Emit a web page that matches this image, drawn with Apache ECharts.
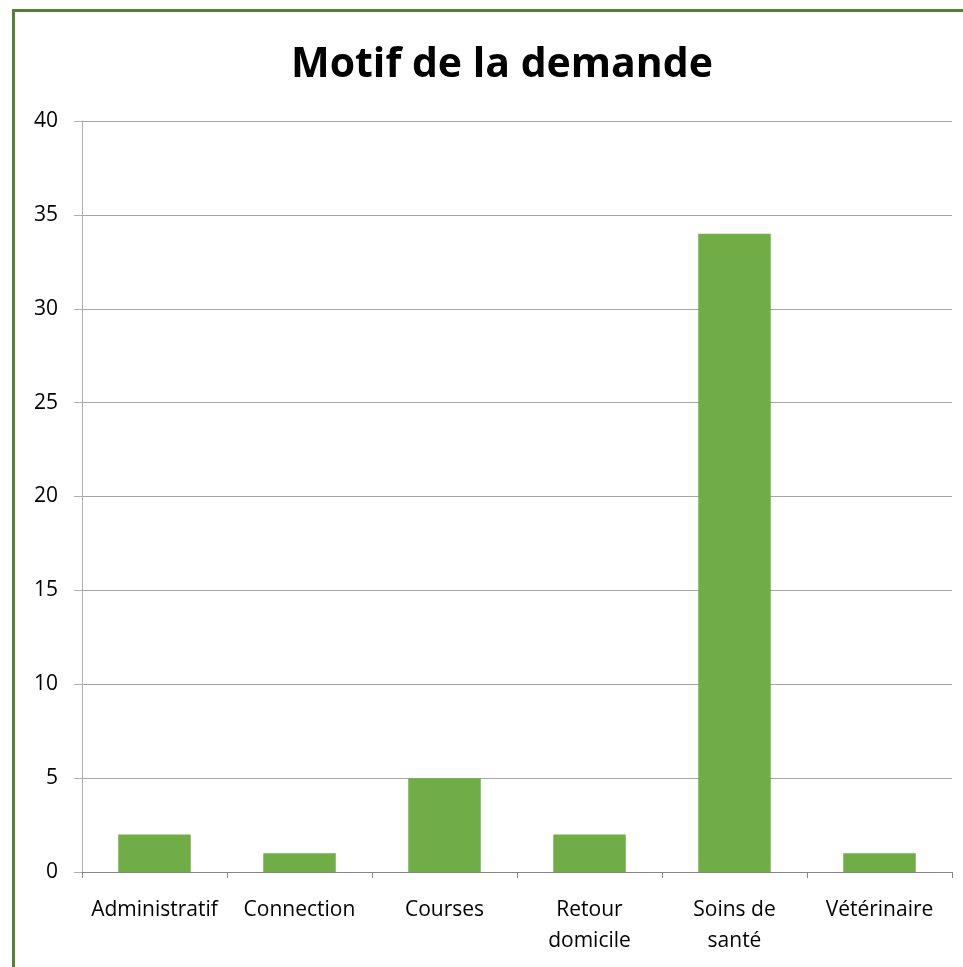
<!DOCTYPE html>
<html>
<head>
<meta charset="utf-8">
<script src="https://cdn.jsdelivr.net/npm/echarts@6/dist/echarts.min.js"></script>
<style>
  html, body { margin: 0; padding: 0; background: #fff; }
  #frame { position: absolute; left: 12px; top: 9px; width: 963px; height: 967px;
           border-left: 3px solid #548235; border-top: 3px solid #548235; }
  #chart { position: absolute; left: 0; top: 0; width: 963px; height: 967px; }
</style>
</head>
<body>
<div id="frame"></div>
<div id="chart"></div>
<script>
// motifs et nombre de demandes
var categories = ['Administratif', 'Connection', 'Courses', 'Retour\ndomicile', 'Soins de\nsanté', 'Vétérinaire'];
var values = [2, 1, 5, 2, 34, 1];
var yTicks = [0, 5, 10, 15, 20, 25, 30, 35, 40];

var chart = echarts.init(document.getElementById('chart'));

chart.setOption({
    animation: false,
    title: {
        text: 'Motif de la demande',
        left: 497,
        top: 40,
        textAlign: 'center',
        textStyle: { fontFamily: 'Open Sans', fontWeight: 'bold', fontSize: 41, color: '#000' }
    },
    grid: { left: 82, right: 11, top: 121, bottom: 95 },
    xAxis: {
        type: 'category',
        data: categories,
        axisLine: { lineStyle: { color: '#868686', width: 1 } },
        axisTick: { show: true, length: 6, lineStyle: { color: '#868686' } },
        axisLabel: {
            fontFamily: 'Open Sans', fontSize: 21, color: '#000',
            margin: 23, lineHeight: 31, interval: 0
        }
    },
    yAxis: {
        type: 'value',
        min: yTicks[0],
        max: yTicks[yTicks.length - 1],
        interval: 5,
        axisLine: { show: true, lineStyle: { color: '#b0b0b0' } },
        axisTick: { show: true, length: 8, lineStyle: { color: '#b0b0b0' } },
        splitLine: { lineStyle: { color: '#a6a6a6' } },
        axisLabel: { fontFamily: 'Open Sans', fontSize: 21, color: '#000', margin: 24 }
    },
    series: [{
        type: 'bar',
        data: values,
        barWidth: '50%',
        itemStyle: { color: '#70ad47' }
    }]
});
</script>
</body>
</html>
